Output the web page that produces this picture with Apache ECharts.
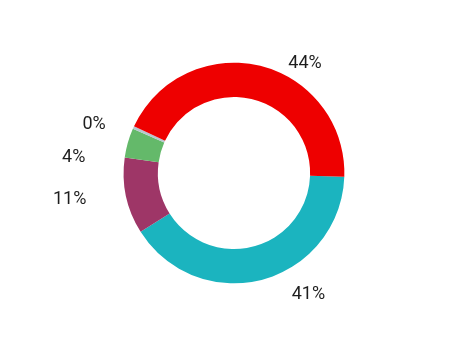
<!DOCTYPE html>
<html>
<head>
<meta charset="utf-8">
<script src="https://cdn.jsdelivr.net/npm/echarts@6/dist/echarts.min.js"></script>
<style>
html,body{margin:0;padding:0;background:#fff;}
#chart{width:468px;height:346px;}
</style>
</head>
<body>
<div id="chart"></div>
<script>
// Data (drawn clockwise starting just below 3 o'clock)
const categories = ['Teal', 'Purple', 'Green', 'Gray', 'Red'];
const values = [40.5, 11.2, 4.3, 0.4, 43.6];
const colors = ['#1bb4bf', '#9e3667', '#64b96a', '#b8c6cf', '#ee0000'];

// label styling per slice (horizontal leader length, vertical nudge)
const labelLen2 = [20, 20, 23, 9, 20];
const labelDy = [0, 0, 19, 3, 12];

const chart = echarts.init(document.getElementById('chart'), null, {renderer: 'canvas'});
chart.setOption({
  animation: false,
  series: [{
    type: 'pie',
    center: ['50%', '50%'],
    radius: ['44%', '63.8%'],
    startAngle: -2,
    clockwise: true,
    avoidLabelOverlap: false,
    data: categories.map((c, i) => ({
      name: c, value: values[i],
      itemStyle: {color: colors[i]},
      labelLine: {show: false, length: 15, length2: labelLen2[i]}
    })),
    label: {
      show: true,
      position: 'outside',
      fontFamily: 'Roboto',
      fontSize: 18,
      color: '#1e1e1e',
      formatter: p => Math.round(p.percent) + '%'
    },
    labelLine: {show: false, length: 15, length2: 20},
    labelLayout: p => ({dy: labelDy[p.dataIndex]})
  }]
});
</script>
</body>
</html>
